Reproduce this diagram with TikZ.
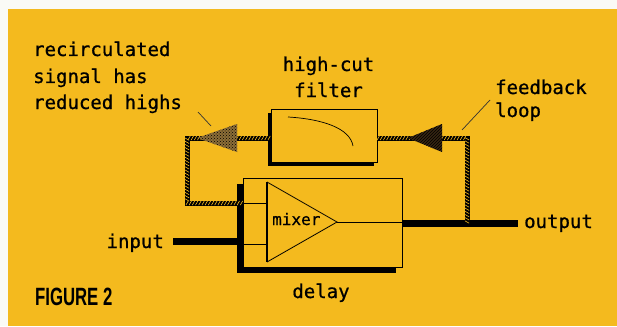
\documentclass[tikz,border=0pt]{standalone}
\usepackage{fontspec}
\newfontfamily\labfont[FakeBold=0.7]{DejaVu Sans Mono}
\newfontfamily\figfont{Liberation Sans}
\usetikzlibrary{decorations.markings,shadows,patterns}
\definecolor{bgy}{RGB}{244,186,30}
\definecolor{paper}{RGB}{250,250,246}
\definecolor{arrowgray}{RGB}{140,110,55}
\definecolor{arrowdark}{RGB}{55,38,18}
\tikzset{
  lab/.style={font=\labfont\fontsize{19}{19}\selectfont, inner sep=0pt, text=black},
  smalllab/.style={font=\labfont\fontsize{16}{16}\selectfont, inner sep=0pt, text=black},
  rope/.style={line width=5pt, draw=black, line join=miter,
    postaction={decorate, decoration={markings,
      mark=between positions 1.5pt and 1 step 3.2pt with {\draw[bgy, line width=0.6pt] (-1.2pt,-2.1pt) -- (1.2pt,2.1pt);}}}},
  boxy/.style={draw=black, fill=bgy, line width=0.8pt, inner sep=0pt},
  thin/.style={draw=black, line width=0.8pt},
  heavy/.style={draw=black, line width=7pt},
  leader/.style={draw=black!80, line width=0.7pt}
}
\begin{document}
\begin{tikzpicture}[x=1pt,y=-1pt]
\useasboundingbox (0,0) rectangle (617,326);
\fill[paper] (0,0) rectangle (617,326);
\fill[bgy] (8,9) rectangle (617,326);

% boxes
\node[boxy, minimum width=106pt, minimum height=53pt,
  drop shadow={shadow xshift=-3pt, shadow yshift=-4pt, fill=black, opacity=1}]
  (filter) at (324,135.5) {};
\node[boxy, minimum width=159pt, minimum height=89pt,
  drop shadow={shadow xshift=-6pt, shadow yshift=-6pt, fill=black, opacity=1}]
  (delay) at (322.5,222.5) {};

% filter curve
\draw[thin, line width=0.7pt] (288,117) .. controls (322,119) and (350,128) .. (353,146);

% mixer triangle
\coordinate (mt) at (267,182);
\coordinate (mb) at (267,262);
\coordinate (ma) at (337,222);
\draw[thin, line join=miter] (mt) -- (ma) -- (mb);
\draw[draw=black, line width=2.2pt] (mt) -- (mb);
\node[smalllab, anchor=base west] (mixer) at (272,225) {mixer};

% inner lines
\coordinate (fbin) at (243,203);
\coordinate (inin) at (243,244);
\draw[thin] (fbin) -- (fbin -| mt);
\draw[thin] (inin) -- (inin -| mt);
\draw[thin] (ma) -- (ma -| delay.east);

% input / output
\coordinate (instart) at (173,241);
\draw[heavy] (instart) -- (instart -| delay.west);
\coordinate (outend) at (518,223.5);
\coordinate (junc) at (467,223.5);
\draw[heavy, line width=6.5pt] (outend -| delay.east) -- (outend);

% feedback loop
\coordinate (tr) at (467,138);
\coordinate (tl) at (187,138);
\coordinate (bl) at (187,203);
\draw[rope] (junc) -- (tr) -- (tr -| filter.east);
\draw[rope] (tl -| filter.west) -- (tl) -- (bl) -- (fbin);

% arrowheads
\fill[arrowgray] (197,138) -- (237,124) -- (237,152) -- cycle;
\fill[pattern=crosshatch dots, pattern color=black] (197,138) -- (237,124) -- (237,152) -- cycle;
\fill[arrowdark] (408,138) -- (442,124) -- (442,152) -- cycle;
\fill[pattern=north east lines, pattern color=black] (408,138) -- (442,124) -- (442,152) -- cycle;

% labels
\node[lab, anchor=base west] (rec1) at (33,56) {recirculated};
\node[lab, anchor=base west] (rec2) at (33,83) {signal has};
\node[lab, anchor=base west] (rec3) at (33,109) {reduced highs};
\coordinate (recl) at (211,126);
\draw[leader] (198,112) -- (recl);

\node[lab, anchor=base] (hc1) at (328.5,71) {high-cut};
\node[lab, anchor=base] (hc2) at (328.5,97) {filter};

\node[lab, anchor=base west] (fb1) at (495,94) {feedback};
\node[lab, anchor=base west] (fb2) at (495,117) {loop};
\coordinate (fbl) at (462,130);
\draw[leader] (490,100) -- (fbl);

\node[lab, anchor=base east] (inp) at (164,248) {input};
\node[lab, anchor=base west] (outp) at (524,228) {output};
\node[lab, anchor=base] (dly) at (321,298) {delay};

\node[anchor=base west, inner sep=0pt, xscale=0.67, font=\figfont\bfseries\fontsize{25}{25}\selectfont] (fig) at (35,305) {FIGURE 2};
\end{tikzpicture}
\end{document}
